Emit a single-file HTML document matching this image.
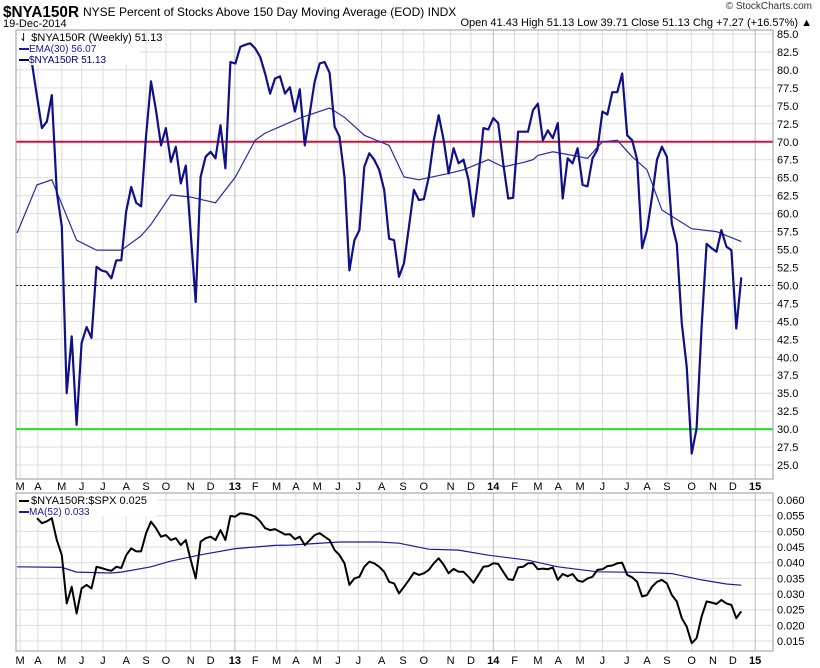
<!DOCTYPE html>
<html><head><meta charset="utf-8"><style>
body{margin:0;background:#fff;width:820px;height:668px;overflow:hidden;font-family:"Liberation Sans",sans-serif}
svg{position:absolute;left:0;top:0}
</style></head><body>
<svg id="c" width="820" height="668" xmlns="http://www.w3.org/2000/svg" font-family="Liberation Sans, sans-serif">
<text x="3" y="17" font-size="16" font-weight="bold" textLength="76" lengthAdjust="spacingAndGlyphs">$NYA150R</text>
<text x="83" y="16" font-size="12">NYSE Percent of Stocks Above 150 Day Moving Average (EOD) INDX</text>
<text x="3" y="27" font-size="11">19-Dec-2014</text>
<text x="812" y="9" font-size="10" text-anchor="end" fill="#333">© StockCharts.com</text>
<text x="812" y="26" font-size="11" text-anchor="end">Open 41.43  High 51.13  Low 39.71  Close 51.13  Chg +7.27 (+16.57%) ▲</text>
<g id="grid"></g>
<g id="marks"></g>
<rect x="16" y="30" width="757" height="449" fill="none" stroke="#999"/>
<rect x="16" y="493" width="757" height="158" fill="none" stroke="#999"/>
<g>
<rect x="17" y="31" width="122" height="34" fill="#fff"/>
<text x="19" y="41" font-size="11">⇃ $NYA150R (Weekly) 51.13</text>
<rect x="19" y="48" width="10" height="2" fill="#1a1aa0"/>
<text x="29" y="52" font-size="10" fill="#1a1aa0">EMA(30) 56.07</text>
<rect x="19" y="59" width="10" height="2" fill="#000080"/>
<text x="29" y="63" font-size="10" fill="#000080">$NYA150R 51.13</text>
</g>
<g>
<rect x="17" y="494" width="140" height="22" fill="#fff"/>
<rect x="19" y="500" width="10" height="2" fill="#000"/>
<text x="31" y="504" font-size="11">$NYA150R:$SPX 0.025</text>
<rect x="19" y="511" width="10" height="2" fill="#1a1aa0"/>
<text x="29" y="515" font-size="10" fill="#1a1aa0">MA(52) 0.033</text>
</g>
</svg>
<script>
const closes=[80.9,76.3,71.9,72.8,76.5,63,58.2,35.0,42.9,30.6,42.0,44.2,42.7,52.6,52.1,51.9,51.0,53.5,53.5,60.3,63.7,61.5,61.0,70.9,78.4,74.4,69.5,71.9,67.2,69.3,64.2,66.7,57.3,47.7,65.1,67.9,68.6,67.7,72.3,66.3,81.1,80.9,83.2,83.5,83.7,83.0,81.8,79.5,76.7,78.8,
79.1,76.7,77.6,74.2,77.3,69.5,74,78.4,80.9,81.1,79.6,72.1,70.7,65.1,52.1,56.3,57.7,66.5,68.4,67.5,66.1,63.3,56.5,56.3,51.2,53.1,58.2,63.3,61.9,62.0,65.1,70.2,73.7,70.2,65.6,69.1,67.0,67.5,64.7,59.6,65.1,71.9,71.7,73.3,72.6,67.0,62.1,62.2,71.4,
71.4,71.4,74.4,75.3,70.2,71.6,70.5,72.6,62.1,67.7,67.0,69.1,64.0,63.8,67.7,68.9,74.2,73.8,76.9,76.9,79.5,70.9,70.2,67.5,55.2,57.7,62.3,67.5,69.3,67.9,58.6,55.8,44.7,38.7,26.6,30.1,44.2,55.8,55.2,54.7,57.7,55.4,54.9,44.0,51.13];
const emaWeeks=[-3,1,4,9,13,18,22,24,28,32,37,41,45,47,54,60,63,67,72,75,78,84,87,92,95,99,101,102,105,109,112,115,118,121,124,127,133,138,143];
const emaValues=[57.3,64,64.7,56.3,54.9,54.9,56.9,58.5,62.6,62.3,61.5,65.1,70.2,71.2,73.3,74.7,73.4,70.9,69.5,65.1,64.7,65.6,66.1,67.5,66.5,67.1,67.5,68.1,68.6,68.1,67.7,70.0,70.2,67.9,66.1,60.5,57.9,57.5,56.1];
const ratio=[null,0.0542,0.0526,0.0532,0.0542,0.0472,0.0424,0.0270,0.0323,0.0238,0.0318,0.0329,0.0318,0.0387,0.0383,0.0378,0.0374,0.0387,0.0383,0.0424,0.0446,0.0436,0.0436,0.0494,0.0531,0.0510,0.0483,0.0488,0.0472,0.0478,0.0456,0.0472,0.0409,0.0350,0.0467,0.0478,0.0483,0.0472,0.0504,0.0472,0.0549,0.0547,0.0558,0.0556,0.0553,0.0547,0.0532,0.0510,0.0504,0.0507,0.0499,0.0490,0.0491,0.0475,
0.0483,0.0456,0.0472,0.0488,0.0494,0.0483,0.0472,0.0440,0.0424,0.0398,0.0329,0.0350,0.0355,0.0387,0.0403,0.0398,0.0387,0.0371,0.0339,0.0334,0.0302,0.0323,0.0345,0.0368,0.0361,0.0366,0.0377,0.0398,0.0414,0.0393,0.0366,0.0380,0.0371,0.0371,0.0355,0.0336,0.0361,0.0387,0.0389,0.0398,0.0396,0.0371,0.0347,0.0345,0.0385,0.0387,0.0398,0.0398,0.0379,0.0381,0.0379,0.0385,0.0345,0.0364,0.0357,0.0364,0.0343,0.0339,0.0350,0.0355,0.0377,0.0379,0.0389,0.0391,0.0398,
0.0400,0.0361,0.0353,0.0339,0.0292,0.0297,0.0323,0.0339,0.0345,0.0334,0.0297,0.0276,0.0223,0.0196,0.0143,0.0159,0.0228,0.0276,0.0273,0.0268,0.0281,0.0270,0.0265,0.0223,0.0245];
const maWeeks=[-3,6,9,16,18,24,28,34,41,49,52,62,70,74,80,86,92,100,106,114,123,129,135,140,143];
const maValues=[0.0387,0.0385,0.0370,0.0367,0.0370,0.0387,0.0405,0.0425,0.0445,0.0455,0.0456,0.0466,0.0466,0.0462,0.0443,0.0440,0.0424,0.0408,0.0387,0.0371,0.0369,0.0365,0.0345,0.0332,0.0328];
const mainTicks=[25,27.5,30,32.5,35,37.5,40,42.5,45,47.5,50,52.5,55,57.5,60,62.5,65,67.5,70,72.5,75,77.5,80,82.5,85];
const lowerTicks=[0.015,0.020,0.025,0.030,0.035,0.040,0.045,0.050,0.055,0.060];
const monthLabels=["M","A","M","J","J","A","S","O","N","D","13","F","M","A","M","J","J","A","S","O","N","D","14","F","M","A","M","J","J","A","S","O","N","D","15"];
const monthWeeks=[-2.4,1.2,6,10,14.3,19,23,27,32,36,40.9,45,49.3,53.2,57.5,61.7,65.8,70.5,74.8,79,84.4,88.5,93,97.3,102,106.1,110.5,115,119.9,124,128,133,137.3,141.3,145.8];
const NS='http://www.w3.org/2000/svg';
const X=w=>32+w*4.96;
const YM=v=>34+(85-v)*7.184;
const YL=v=>500+(0.060-v)*3134;
const grid=document.getElementById('grid'),marks=document.getElementById('marks');
function mk(tag,at,parent){const e=document.createElementNS(NS,tag);for(const k in at)e.setAttribute(k,at[k]);parent.appendChild(e);return e;}
mainTicks.forEach(v=>{
 const l=mk('line',{x1:16,x2:773,y1:YM(v),y2:YM(v),stroke:'#ddd'},grid);
 
 
 const t=mk('text',{x:777,y:YM(v)+4,'font-size':11},grid);t.textContent=v.toFixed(1);
 
 
});
lowerTicks.forEach(v=>{
 const l=mk('line',{x1:16,x2:773,y1:YL(v),y2:YL(v),stroke:'#ddd'},grid);
 
 
 const t=mk('text',{x:777,y:YL(v)+4,'font-size':11},grid);t.textContent=v.toFixed(3);
 
 
});
monthLabels.forEach((m,i)=>{
 const x=X(monthWeeks[i]);const yr=/\d/.test(m);
 [[30,479],[493,651]].forEach(r=>{const l=mk('line',{x1:x,x2:x,y1:r[0],y2:r[1],stroke:yr?'#bbb':'#ddd'},grid);
 
 });
 [490,664].forEach(yy=>{const t=mk('text',{x:x,y:yy,'font-size':11,'text-anchor':'middle','font-weight':yr?'bold':'normal'},grid);t.textContent=m;
 
 });
});
const h70=mk('line',{x1:16,x2:773,y1:YM(70),y2:YM(70),stroke:'#d0103a','stroke-width':2},marks);


const h30=mk('line',{x1:16,x2:773,y1:YM(30),y2:YM(30),stroke:'#22e022','stroke-width':2},marks);


const h50=mk('line',{x1:16,x2:773,y1:YM(50),y2:YM(50),stroke:'#000','stroke-dasharray':'2,2'},marks);


function pts(ws,vs,Y){return vs.map((v,i)=>v==null?null:X(ws[i]).toFixed(1)+','+Y(v).toFixed(1)).filter(p=>p).join(' ');}
const idx=closes.map((_,i)=>i);
const ema=mk('polyline',{points:pts(emaWeeks,emaValues,YM),fill:'none',stroke:'#2a2aa8','stroke-width':1.2},marks);


const cl=mk('polyline',{points:pts(idx,closes,YM),fill:'none',stroke:'#10108a','stroke-width':2.2,'stroke-linejoin':'round'},marks);


const ma=mk('polyline',{points:pts(maWeeks,maValues,YL),fill:'none',stroke:'#1a1aa0','stroke-width':1.2},marks);


const rl=mk('polyline',{points:pts(ratio.map((_,i)=>i),ratio,YL),fill:'none',stroke:'#000','stroke-width':2,'stroke-linejoin':'round'},marks);


</script>
</body></html>
